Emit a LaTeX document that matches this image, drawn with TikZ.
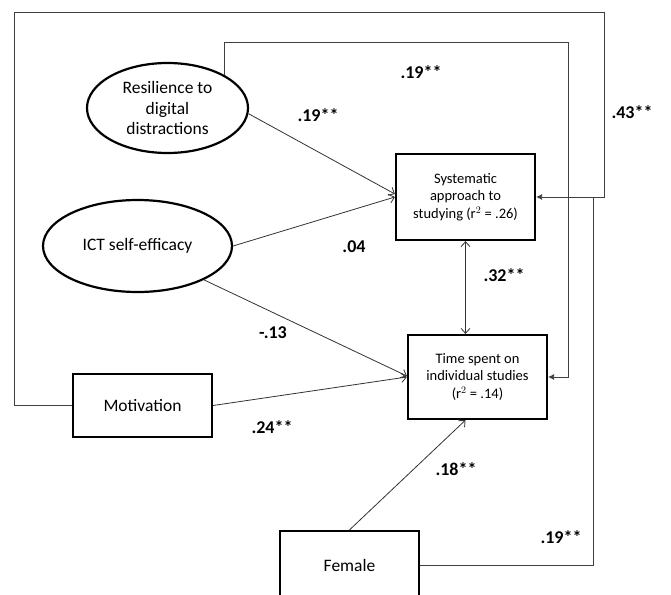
\documentclass[tikz,border=0pt]{standalone}
\usepackage{fontspec}
\setmainfont{Carlito}
\usetikzlibrary{arrows.meta,shapes.geometric}

\begin{document}
\begin{tikzpicture}[x=1pt,y=-1pt,
    latent/.style={ellipse,draw,line width=2.2pt,inner sep=0pt,align=center,
      font=\fontsize{17.5}{20.5}\selectfont},
    observed/.style={rectangle,draw,line width=2.2pt,minimum width=139pt,align=center,
      font=\fontsize{17.5}{20.5}\selectfont},
    outcome/.style={observed,font=\fontsize{14.5}{17.5}\selectfont},
    path/.style={draw=black!80,line width=0.8pt,-{Straight Barb[length=5pt,width=9pt]}},
    loop/.style={draw=black!75,line width=0.8pt},
    filled/.style={-{Latex[length=6pt,width=6pt]}},
    coef/.style={font=\fontsize{18}{20}\selectfont\bfseries}]
  \clip (0,0) rectangle (671,594);
  \fill[white] (0,0) rectangle (671,594);

  % variables
  \node[latent,minimum width=161pt,minimum height=90pt] (res) at (167.5,108)
    {Resilience to\\digital\\distractions};
  \node[latent,minimum width=189pt,minimum height=92pt] (ict) at (137.5,246)
    {ICT self-efficacy};
  \node[observed,minimum height=63pt] (mot) at (142.5,405.5) {Motivation};
  \node[outcome,minimum height=86pt] (sys) at (465.5,197)
    {Systematic\\approach to\\studying (r$^{2}$ = .26)};
  \node[outcome,minimum height=84pt] (time) at (477.5,377)
    {Time spent on\\individual studies\\(r$^{2}$ = .14)};
  \node[observed,minimum height=68pt] (fem) at (349.5,565) {Female};

  % corners of the long paths
  \coordinate (outerTL) at (14,12);
  \coordinate (outerTR) at (604,12);
  \coordinate (innerTR) at (568,42);
  \coordinate (femUp) at (593,197);

  % direct paths
  \draw[path] (res.-4) -- ([yshift=3pt]sys.west);
  \draw[path] (ict.east) -- (sys.west);
  \draw[path] (ict.-27) -- ([yshift=1pt]time.west);
  \draw[path] (mot.east) -- (time.west);
  \draw[path] (fem.north) -- ([xshift=-12pt]time.south);
  \draw[path,{Straight Barb[length=5pt,width=9pt]}-{Straight Barb[length=5pt,width=9pt]}]
    (sys.south) -- (sys.south |- time.north);

  % paths round the outside
  \draw[loop,filled] (mot.west) -| (outerTL) -- (outerTR) |- (sys.east);
  \draw[loop,filled] (res.30) |- (innerTR) |- (time.east);
  \draw[loop] (fem.east) -| (femUp);

  % coefficients
  \node[coef] (bResTime) at (421,72) {.19**};
  \node[coef] (bResSys) at (318,115) {.19**};
  \node[coef] (bMotSys) at (632,112) {.43**};
  \node[coef] (bIctSys) at (354,247) {.04};
  \node[coef] (rSysTime) at (504,275) {.32**};
  \node[coef] (bIctTime) at (273,333) {-.13};
  \node[coef] (bMotTime) at (272,427) {.24**};
  \node[coef] (bFemTime) at (456,469) {.18**};
  \node[coef] (bFemSys) at (561,537) {.19**};
\end{tikzpicture}
\end{document}
